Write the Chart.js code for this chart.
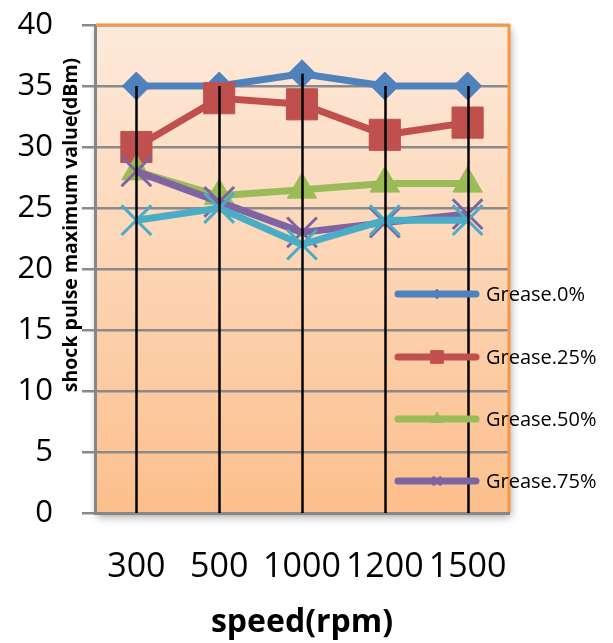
<!DOCTYPE html>
<html>
<head>
<meta charset="utf-8">
<script src="https://cdn.jsdelivr.net/npm/chart.js@4.4.1/dist/chart.umd.min.js"></script>
<style>
  html, body { margin: 0; padding: 0; background: #ffffff; }
  #wrap { width: 613px; height: 643px; }
</style>
</head>
<body>
<div id="wrap"><canvas id="c" width="613" height="643"></canvas></div>
<script>
// Speeds (rpm) on the category axis
const speeds = ['300', '500', '1000', '1200', '1500'];

// Shock pulse maximum value (dBm) per grease level
const grease0  = [35, 35, 36, 35, 35];
const grease25 = [30, 34, 33.5, 31, 32];
const grease50 = [28, 26, 26.5, 27, 27];
const grease75 = [28, 25.5, 23, 23.8, 24.5];
const grease100 = [24, 25, 22, 24, 24];

const seriesNames = ['Grease.0%', 'Grease.25%', 'Grease.50%', 'Grease.75%', 'Grease.100%'];
const legendCount = 4;

const yTicks = [0, 5, 10, 15, 20, 25, 30, 35, 40];

const FONT = "'Open Sans', 'DejaVu Sans', sans-serif";

const styles = [
  { color: '#4F81BD', point: 'rectRot',  radius: 14, pbw: 1, legendRadius: 5 },
  { color: '#C0504D', point: 'rect',     radius: 22, pbw: 1, legendRadius: 9 },
  { color: '#9BBB59', point: 'triangle', radius: 17, pbw: 1, legendRadius: 7 },
  { color: '#8064A2', point: 'crossRot', radius: 21, pbw: 3, legendRadius: 6 },
  { color: '#4BACC6', point: 'crossRot', radius: 21, pbw: 3, legendRadius: 6 }
];

const allSeries = [grease0, grease25, grease50, grease75, grease100];

const datasets = allSeries.map((vals, i) => ({
  label: seriesNames[i],
  data: vals,
  borderColor: styles[i].color,
  backgroundColor: styles[i].color,
  borderWidth: 7,
  tension: 0,
  pointStyle: styles[i].point,
  pointRadius: styles[i].radius,
  pointHoverRadius: styles[i].radius,
  pointBorderWidth: styles[i].pbw,
  pointBorderColor: styles[i].color,
  pointBackgroundColor: styles[i].color,
  order: allSeries.length - i
}));

// Plot area: gradient fill with soft shadow, orange frame, drop lines, legend
const plotDecor = {
  id: 'plotDecor',
  beforeDraw(chart) {
    const { ctx, chartArea: a } = chart;
    const g = ctx.createLinearGradient(0, a.top, 0, a.bottom);
    g.addColorStop(0, 'rgb(253,234,219)');
    g.addColorStop(1, 'rgb(252,191,140)');
    ctx.save();
    ctx.shadowColor = 'rgba(0,0,0,0.35)';
    ctx.shadowBlur = 8;
    ctx.shadowOffsetX = 2;
    ctx.shadowOffsetY = 4;
    ctx.fillStyle = g;
    ctx.fillRect(a.left, a.top, a.right - a.left, a.bottom - a.top);
    ctx.restore();
  },
  beforeDatasetsDraw(chart) {
    const { ctx, chartArea: a } = chart;
    ctx.save();
    ctx.strokeStyle = '#F79646';
    ctx.lineWidth = 3;
    ctx.beginPath();
    ctx.moveTo(a.left + 1, a.top);
    ctx.lineTo(a.right, a.top);
    ctx.lineTo(a.right, a.bottom - 1);
    ctx.stroke();
    ctx.restore();
  },
  afterDatasetsDraw(chart) {
    const { ctx, scales: { x, y } } = chart;
    ctx.save();
    ctx.strokeStyle = '#000000';
    ctx.lineWidth = 2.5;
    speeds.forEach((s, i) => {
      const top = Math.max(...allSeries.map(v => v[i]));
      const px = Math.round(x.getPixelForValue(i)) + 0.5;
      ctx.beginPath();
      ctx.moveTo(px, y.getPixelForValue(top));
      ctx.lineTo(px, y.bottom);
      ctx.stroke();
    });
    ctx.restore();
  },
  afterDraw(chart) {
    const { ctx } = chart;
    // y-axis title, set between tick labels and axis
    ctx.save();
    ctx.translate(71, 225);
    ctx.rotate(-Math.PI / 2);
    ctx.font = 'bold 19.5px ' + FONT;
    ctx.fillStyle = '#000';
    ctx.textAlign = 'center';
    ctx.textBaseline = 'middle';
    ctx.fillText('shock pulse maximum value(dBm)', 0, 0);
    ctx.restore();

    // legend
    const rows = [294, 357, 419, 481];
    ctx.save();
    for (let i = 0; i < legendCount; i++) {
      const st = styles[i];
      const yy = rows[i];
      ctx.strokeStyle = st.color;
      ctx.lineWidth = 7;
      ctx.lineCap = 'round';
      ctx.beginPath();
      ctx.moveTo(398, yy);
      ctx.lineTo(476, yy);
      ctx.stroke();
      ctx.lineCap = 'butt';
      ctx.fillStyle = st.color;
      ctx.strokeStyle = st.color;
      ctx.lineWidth = st.pbw;
      Chart.helpers.drawPoint(ctx, {
        pointStyle: st.point,
        radius: st.legendRadius,
        borderWidth: st.pbw,
        rotation: 0
      }, 437, yy);
      ctx.fillStyle = '#000';
      ctx.font = '20px ' + FONT;
      ctx.textAlign = 'left';
      ctx.textBaseline = 'middle';
      ctx.fillText(seriesNames[i], 486, yy + 1);
    }
    ctx.restore();
  }
};

new Chart(document.getElementById('c'), {
  type: 'line',
  data: { labels: speeds, datasets },
  options: {
    responsive: false,
    animation: false,
    devicePixelRatio: 1,
    layout: { padding: { left: 0, top: 25, right: 104, bottom: 0 } },
    plugins: { legend: { display: false }, tooltip: { enabled: false } },
    scales: {
      x: {
        type: 'category',
        offset: true,
        grid: { display: false, drawTicks: false },
        border: { display: true, color: '#878787', width: 3 },
        ticks: {
          autoSkip: false, maxRotation: 0, minRotation: 0,
          color: '#000', padding: 34,
          font: { family: FONT, size: 34 }
        },
        title: {
          display: true, text: 'speed(rpm)', color: '#000',
          font: { family: FONT, size: 32, weight: 'bold' },
          padding: { top: 0, bottom: 1 }
        },
        afterFit(scale) {
          scale.height = 130;
          scale.paddingLeft = 0;
          scale.paddingRight = 0;
        }
      },
      y: {
        min: 0, max: 40,
        afterBuildTicks(scale) { scale.ticks = yTicks.map(v => ({ value: v })); },
        grid: { color: '#8a8a8a', lineWidth: 2.5, tickLength: 13, tickColor: '#8a8a8a' },
        border: { display: true, color: '#878787', width: 3 },
        ticks: {
          color: '#000', padding: 29,
          font: { family: FONT, size: 31 }
        },
        afterFit(scale) {
          scale.width = 95;
          scale.paddingTop = 0;
          scale.paddingBottom = 0;
        }
      }
    }
  },
  plugins: [plotDecor]
});
</script>
</body>
</html>
